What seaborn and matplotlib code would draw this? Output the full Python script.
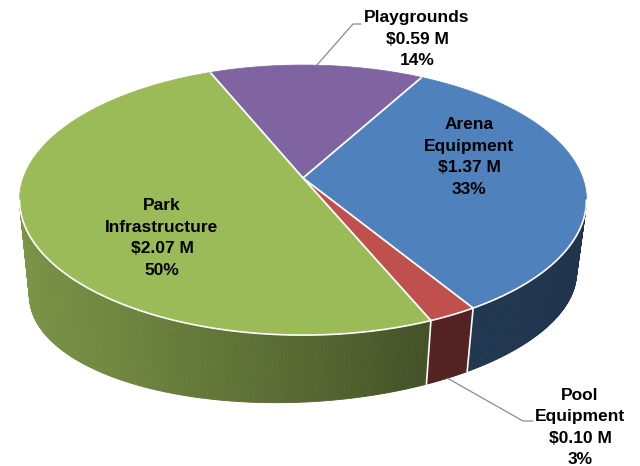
import numpy as np
import matplotlib
matplotlib.use("Agg")
import matplotlib.pyplot as plt
from matplotlib.patches import Polygon
from matplotlib.colors import to_rgb
import seaborn as sns

# ---- data -------------------------------------------------------------
categories = ["Arena\nEquipment", "Pool\nEquipment", "Park\nInfrastructure", "Playgrounds"]
values = [1.37, 0.10, 2.07, 0.59]          # $ millions
percent_labels = ["33%", "3%", "50%", "14%"]
slice_colors = ["#4F81BD", "#C0504D", "#9BBB59", "#8064A2"]

# ---- style ------------------------------------------------------------
sns.set_theme(style="white")
plt.rcParams["font.family"] = ["Liberation Sans", "DejaVu Sans"]
palette = sns.color_palette(slice_colors)

W, H = 640, 466
fig = plt.figure(figsize=(W / 100, H / 100), dpi=100)
ax = fig.add_axes([0, 0, 1, 1])
ax.set_xlim(0, W)
ax.set_ylim(H, 0)
ax.axis("off")

# ---- simple perspective camera for the pie disc -------------------------
CX, CY = 303.0, 178.0
FOCAL, DIST = 1510.0, 5.4
SIN_E = 0.47
COS_E = np.sqrt(1 - SIN_E ** 2)
START = 29.0  # first slice edge, degrees clockwise from 12 o'clock


def top_point(theta):
    t = np.radians(np.asarray(theta, dtype=float))
    x, y = np.sin(t), np.cos(t)
    den = DIST + COS_E * y
    return CX + FOCAL * x / den, CY - FOCAL * SIN_E * y / den


def bottom_point(theta):
    px, py = top_point(theta)
    dx = px - CX
    thick = 86.9 - 0.1265 * (py - CY) - 0.041 * dx
    return CX + 0.965 * dx, py + thick


def wall_shade(theta):
    u = np.sin(np.radians(theta))
    return np.interp(u, [-1.0, -0.6, 0.0, 0.4, 1.0], [0.80, 0.72, 0.56, 0.43, 0.40])


total = float(np.sum(values))
edges = START + 360.0 * np.concatenate([[0.0], np.cumsum(values)]) / total

# visible part of the outer wall (front half, perspective corrected)
vis_a = np.degrees(np.arccos(-COS_E / DIST))
vis_b = 360.0 - vis_a

# ---- outer wall -------------------------------------------------------
for i, base in enumerate(palette):
    a0, a1 = edges[i], edges[i + 1]
    lo, hi = max(a0, vis_a), min(a1, vis_b)
    if hi <= lo:
        continue
    n = max(2, int((hi - lo) / 0.5) + 1)
    th = np.linspace(lo, hi, n)
    tx, ty = top_point(th)
    bx, by = bottom_point(th)
    rgb = np.array(to_rgb(base))
    for k in range(n - 1):
        f = wall_shade(0.5 * (th[k] + th[k + 1]))
        col = np.clip(rgb * f, 0, 1)
        quad = [(tx[k], ty[k]), (tx[k + 1], ty[k + 1]),
                (bx[k + 1], by[k + 1]), (bx[k], by[k])]
        ax.add_patch(Polygon(quad, closed=True, facecolor=col,
                             edgecolor=col, linewidth=0.6, zorder=2))

# ---- top faces --------------------------------------------------------
for i, base in enumerate(palette):
    a0, a1 = edges[i], edges[i + 1]
    th = np.linspace(a0, a1, max(3, int((a1 - a0) / 0.5) + 1))
    tx, ty = top_point(th)
    pts = [(CX, CY)] + list(zip(tx, ty))
    ax.add_patch(Polygon(pts, closed=True, facecolor=base,
                         edgecolor=base, linewidth=0.5, zorder=3))

# white separators: radial edges, rim, and wall seams
for a in edges[:-1]:
    ex, ey = top_point(a)
    ax.plot([CX, ex], [CY, ey], color="white", lw=1.3, zorder=4,
            solid_capstyle="butt")
    am = a % 360
    if vis_a < am < vis_b:
        bx, by = bottom_point(am)
        ax.plot([ex, bx], [ey, by], color="white", lw=1.2, zorder=4)

rim = np.linspace(vis_a, vis_b, 400)
rx, ry = top_point(rim)
ax.plot(rx, ry, color="white", lw=1.2, zorder=4)

# ---- labels -----------------------------------------------------------
def label_lines(i):
    return categories[i].split("\n") + [f"${values[i]:.2f} M", percent_labels[i]]


label_pos = {0: (469, 157), 1: (580, 427.5), 2: (162, 238), 3: (417, 39)}
LINE_STEP = 21.5
for i, (lx, ly) in label_pos.items():
    lines = label_lines(i)
    first = ly - LINE_STEP * (len(lines) - 1) / 2
    for j, s in enumerate(lines):
        ax.text(lx, first + j * LINE_STEP, s, ha="center", va="center",
                fontsize=12.5, fontweight="bold", color="black", zorder=6)

# leader lines for the two outside labels
mid_play = 0.5 * (edges[3] + edges[4])
px, py = top_point(mid_play)
ax.plot([361, 353, px], [24, 24, py], color="#8c8c8c", lw=0.9, zorder=5)

mid_pool = 0.5 * (edges[1] + edges[2])
qx, qy = bottom_point(mid_pool)
ax.plot([533, 523, qx], [421, 421, qy], color="#8c8c8c", lw=0.9, zorder=5)

fig.savefig("out.png", dpi=100, facecolor="white")
